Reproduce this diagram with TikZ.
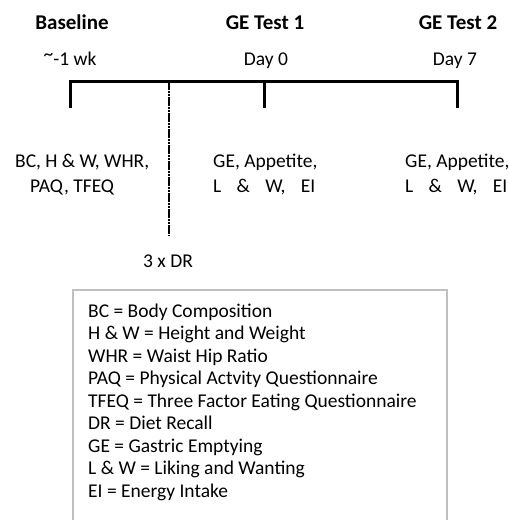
\documentclass[tikz,border=0pt]{standalone}
\usepackage{fontspec}
\setmainfont{Carlito}
\begin{document}
\begin{tikzpicture}[x=1pt,y=-1pt,
  lbl/.style={inner sep=0pt,font=\fontsize{19.5}{23}\selectfont},
  head/.style={inner sep=0pt,font=\fontsize{21}{25}\selectfont\bfseries},
  bar/.style={line width=3pt},
  dr/.style={line width=1.1pt,dash pattern=on 2.5pt off 0.7pt},
  legendbox/.style={draw=black!25,line width=2pt}]
\useasboundingbox (0,0) rectangle (509,520);

% timeline
\coordinate (t0) at (70,81);
\coordinate (t1) at (264,81);
\coordinate (t2) at (457,81);
\coordinate (b0) at (70,108);
\coordinate (b1) at (264,108);
\coordinate (b2) at (457,108);
\coordinate (d0) at (169,81);
\coordinate (d1) at (169,235);
\draw[bar,line cap=rect] (t0) -- (t2);
\draw[bar] (t0) -- (b0);
\draw[bar] (t1) -- (b1);
\draw[bar] (t2) -- (b2);
\draw[dr] (d0) -- (d1);

% headings
\node[head,anchor=base] (h0) at (72,29) {Baseline};
\node[head,anchor=base] (h1) at (265,29) {GE Test 1};
\node[head,anchor=base] (h2) at (458,29) {GE Test 2};
\node[lbl,anchor=base] (w0) at (70,65) {\raisebox{0.22em}{\textasciitilde}-1 wk};
\node[lbl,anchor=base] (w1) at (266,65) {Day 0};
\node[lbl,anchor=base] (w2) at (455,65) {Day 7};

% measurements at each visit
\node[lbl,anchor=base west] (m0a) at (15,167) {BC, H \& W, WHR,};
\node[lbl,anchor=base west] (m0b) at (30,192) {PAQ, TFEQ};
\node[lbl,anchor=base west] (m1a) at (213,167) {GE, Appetite,};
\node[lbl,anchor=base west] (m1b) at (213,192) {\hbox to 102pt{L\hfill\&\hfill W,\hfill EI}};
\node[lbl,anchor=base west] (m2a) at (405,167) {GE, Appetite,};
\node[lbl,anchor=base west] (m2b) at (405,192) {\hbox to 102pt{L\hfill\&\hfill W,\hfill EI}};
\node[lbl,anchor=base] (dr) at (168,267) {3 x DR};

% legend
\draw[legendbox] (73,521) -- (73,290) -- (447,290) -- (447,521);
\foreach \t [count=\i from 0] in {
  BC = Body Composition,
  H \& W = Height and Weight,
  WHR = Waist Hip Ratio,
  PAQ = Physical Actvity Questionnaire,
  TFEQ = Three Factor Eating Questionnaire,
  DR = Diet Recall,
  GE = Gastric Emptying,
  L \& W = Liking and Wanting,
  EI = Energy Intake}
  \node[lbl,anchor=base west] (leg\i) at (88,317+22.5*\i) {\t};
\end{tikzpicture}
\end{document}
